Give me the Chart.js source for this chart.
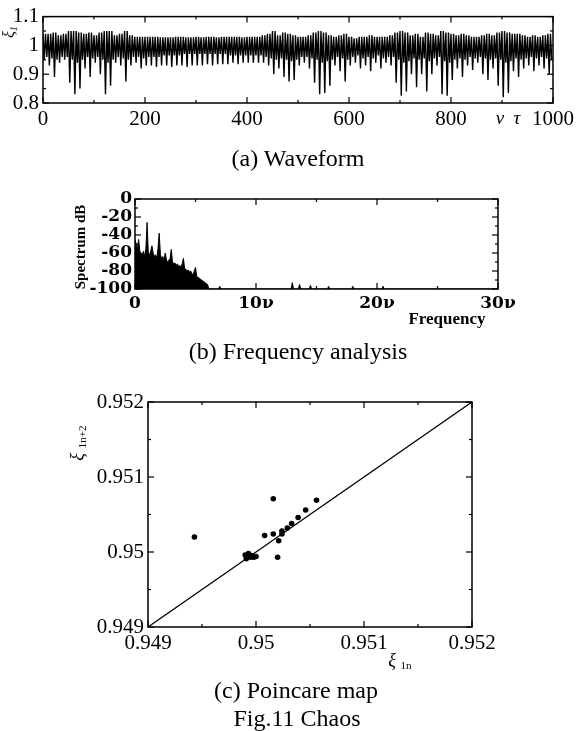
<!DOCTYPE html>
<html>
<head>
<meta charset="utf-8">
<script src="https://cdn.jsdelivr.net/npm/chart.js@4.4.1/dist/chart.umd.min.js"></script>
<style>
  html, body { margin: 0; padding: 0; background: #fff; }
  body { width: 578px; height: 731px; position: relative; overflow: hidden; font-family: "Liberation Serif", "Times New Roman", serif; color: #000; }
  canvas { position: absolute; left: 0; }
  .lbl { position: absolute; white-space: nowrap; transform: translate(-50%, -50%); line-height: 1; }
  .rot { transform: translate(-50%, -50%) rotate(-90deg); }
  .cap { font-size: 24px; }
  sub { font-size: 0.62em; vertical-align: -0.3em; }
</style>
</head>
<body>
<canvas id="wave" width="578" height="135" style="top:0px"></canvas>
<canvas id="spec" width="578" height="150" style="top:170px"></canvas>
<canvas id="poin" width="578" height="280" style="top:380px"></canvas>

<div class="lbl rot" style="left:10px;top:32px;font-size:16px;font-style:italic">ξ<sub>1</sub></div>
<div class="lbl" style="left:508px;top:117px;font-size:19px;font-style:italic">ν&nbsp;&nbsp;τ</div>
<div class="lbl cap" style="left:298px;top:158px">(a) Waveform</div>

<div class="lbl rot" style="left:80px;top:247px;font-size:15px;font-weight:bold">Spectrum dB</div>
<div class="lbl" style="left:447px;top:318px;font-size:17px;font-weight:bold">Frequency</div>
<div class="lbl cap" style="left:298px;top:351px">(b) Frequency analysis</div>

<div class="lbl rot" style="left:78px;top:443px;font-size:18px"><i>ξ</i> <sub>1n+2</sub></div>
<div class="lbl" style="left:400px;top:661px;font-size:18px"><i>ξ</i> <sub>1n</sub></div>
<div class="lbl cap" style="left:296px;top:690px">(c) Poincare map</div>
<div class="lbl cap" style="left:297px;top:718px">Fig.11 Chaos</div>

<script>
// (a) waveform, per 10 units of ν τ: peak, deepest dip, and lower edge of the dark core
const waveStep = 10;
const waveHigh = [
  1.04, 1.04, 1.045, 1.035, 1.04, 1.05, 1.05, 1.045, 1.04, 1.045,
  1.035, 1.045, 1.05, 1.05, 1.035, 1.04, 1.05, 1.035, 1.03, 1.03,
  1.03, 1.03, 1.03, 1.028, 1.028, 1.028, 1.03, 1.03, 1.028, 1.028,
  1.03, 1.028, 1.03, 1.03, 1.028, 1.03, 1.03, 1.03, 1.03, 1.028,
  1.03, 1.03, 1.03, 1.035, 1.04, 1.05, 1.035, 1.045, 1.04, 1.035,
  1.03, 1.03, 1.035, 1.045, 1.05, 1.045, 1.035, 1.03, 1.035, 1.04,
  1.03, 1.025, 1.03, 1.03, 1.035, 1.03, 1.03, 1.03, 1.035, 1.045,
  1.05, 1.045, 1.035, 1.04, 1.03, 1.045, 1.04, 1.035, 1.05, 1.045,
  1.04, 1.035, 1.04, 1.035, 1.03, 1.03, 1.035, 1.04, 1.035, 1.045,
  1.05, 1.045, 1.04, 1.04, 1.035, 1.03, 1.035, 1.03, 1.035, 1.04
];
const waveLow = [
  0.95, 0.93, 0.89, 0.94, 0.95, 0.87, 0.83, 0.85, 0.92, 0.89,
  0.94, 0.90, 0.83, 0.86, 0.94, 0.93, 0.875, 0.93, 0.94, 0.92,
  0.93, 0.93, 0.925, 0.93, 0.93, 0.925, 0.93, 0.93, 0.925, 0.93,
  0.93, 0.93, 0.935, 0.93, 0.935, 0.935, 0.935, 0.94, 0.935, 0.94,
  0.94, 0.94, 0.94, 0.94, 0.93, 0.90, 0.92, 0.89, 0.875, 0.88,
  0.93, 0.94, 0.92, 0.87, 0.83, 0.835, 0.86, 0.93, 0.91, 0.875,
  0.93, 0.94, 0.92, 0.93, 0.91, 0.94, 0.92, 0.94, 0.93, 0.87,
  0.825, 0.84, 0.90, 0.855, 0.90, 0.84, 0.90, 0.93, 0.83, 0.825,
  0.88, 0.92, 0.89, 0.93, 0.915, 0.94, 0.90, 0.88, 0.92, 0.86,
  0.82, 0.835, 0.91, 0.89, 0.92, 0.93, 0.91, 0.93, 0.92, 0.90
];
const waveMid = [
  0.96, 0.955, 0.95, 0.96, 0.96, 0.95, 0.94, 0.95, 0.96, 0.955,
  0.96, 0.95, 0.94, 0.95, 0.96, 0.955, 0.95, 0.96, 0.96, 0.955,
  0.96, 0.96, 0.96, 0.965, 0.965, 0.965, 0.965, 0.97, 0.97, 0.97,
  0.97, 0.97, 0.97, 0.97, 0.97, 0.97, 0.965, 0.965, 0.965, 0.965,
  0.965, 0.965, 0.965, 0.96, 0.955, 0.95, 0.955, 0.95, 0.945, 0.95,
  0.96, 0.96, 0.955, 0.95, 0.94, 0.945, 0.95, 0.96, 0.955, 0.95,
  0.96, 0.965, 0.955, 0.96, 0.955, 0.965, 0.955, 0.96, 0.96, 0.95,
  0.94, 0.945, 0.955, 0.95, 0.955, 0.945, 0.955, 0.96, 0.945, 0.94,
  0.95, 0.955, 0.95, 0.96, 0.955, 0.96, 0.955, 0.95, 0.955, 0.95,
  0.94, 0.945, 0.955, 0.95, 0.955, 0.96, 0.955, 0.96, 0.955, 0.95
];

// (b) spectrum
const specFreq = [
  0.0, 0.1, 0.2, 0.3, 0.4, 0.5, 0.6, 0.7, 0.8, 0.9,
  1.0, 1.1, 1.2, 1.3, 1.4, 1.5, 1.6, 1.7, 1.8, 1.9,
  2.0, 2.1, 2.2, 2.3, 2.4, 2.5, 2.6, 2.7, 2.8, 2.9,
  3.0, 3.1, 3.2, 3.3, 3.4, 3.5, 3.6, 3.7, 3.8, 3.9,
  4.0, 4.1, 4.2, 4.3, 4.4, 4.5, 4.6, 4.7, 4.8, 4.9,
  5.0, 5.1, 5.2, 5.3, 5.4, 5.5, 5.6, 5.7, 5.8, 5.9,
  6.0, 6.1, 6.9, 7.0, 7.1, 12.9, 13.0, 13.1, 13.5, 13.6,
  13.7, 14.4, 14.5, 14.6, 15.9, 16.0, 16.1, 17.9, 18.0, 18.1,
  20.4, 20.5, 20.6, 30
];
const specDb = [
  -45, -50, -55, -45, -58, -60, -62, -58, -64, -55,
  -26, -60, -62, -58, -52, -60, -64, -62, -66, -55,
  -38, -62, -66, -64, -68, -60, -68, -70, -68, -66,
  -56, -70, -72, -71, -74, -72, -75, -74, -76, -72,
  -66, -77, -78, -80, -79, -81, -80, -83, -84, -80,
  -76, -86, -87, -88, -89, -90, -91, -92, -93, -94,
  -95, -100, -100, -97, -100, -100, -93, -100, -100, -95,
  -100, -100, -96, -100, -100, -97, -100, -100, -97, -100,
  -100, -97, -100, -100
];

// (c) Poincare map
const poinX = [
  0.94943, 0.95016, 0.95056, 0.95046, 0.95039, 0.95033, 0.95029, 0.95024, 0.95024, 0.95016,
  0.95008, 0.95021, 0.95020, 0.94990, 0.94992, 0.94995, 0.94998, 0.94993, 0.94991, 0.94996,
  0.95000
];
const poinY = [
  0.95020, 0.95071, 0.95069, 0.95056, 0.95046, 0.95038, 0.95032, 0.95028, 0.95024, 0.95024,
  0.95022, 0.95015, 0.94993, 0.94996, 0.94994, 0.94993, 0.94993, 0.94998, 0.94991, 0.94995,
  0.94994
];
const poinRange = [0.949, 0.952];

// box round the plot area, ticks pointing inward (major + half-step minor)
const framePlugin = {
  id: 'frame',
  afterDraw(chart) {
    const { ctx, chartArea: a, scales } = chart;
    const line = (x1, y1, x2, y2) => { ctx.beginPath(); ctx.moveTo(x1, y1); ctx.lineTo(x2, y2); ctx.stroke(); };
    const marks = (scale) => {
      const vals = scale.ticks.map(t => t.value);
      const out = [];
      vals.forEach((v, i) => {
        out.push([scale.getPixelForValue(v), 6]);
        if (i < vals.length - 1) out.push([scale.getPixelForValue((v + vals[i + 1]) / 2), 3]);
      });
      return out;
    };
    ctx.save();
    ctx.strokeStyle = '#000';
    ctx.lineWidth = 1.2;
    marks(scales.x).forEach(([p, len]) => {
      line(p, a.top, p, a.top + len);
      line(p, a.bottom, p, a.bottom - len);
    });
    marks(scales.y).forEach(([p, len]) => {
      line(a.left, p, a.left + len, p);
      line(a.right, p, a.right - len, p);
    });
    ctx.lineWidth = 1.5;
    ctx.strokeRect(a.left, a.top, a.right - a.left, a.bottom - a.top);
    ctx.restore();
  }
};

function axis(opts) {
  return {
    type: 'linear',
    min: opts.min,
    max: opts.max,
    grid: { display: false, drawTicks: false },
    border: { display: false },
    ticks: {
      stepSize: opts.step,
      color: '#000',
      padding: opts.padding,
      font: opts.font,
      maxRotation: 0,
      autoSkip: false,
      callback: opts.fmt
    },
    afterFit: opts.fit
  };
}

function baseOptions(pad, xAxis, yAxis) {
  return {
    responsive: false,
    animation: false,
    events: [],
    layout: { padding: pad },
    plugins: { legend: { display: false }, tooltip: { enabled: false } },
    scales: { x: xAxis, y: yAxis }
  };
}

const serif = '"Liberation Serif", "Times New Roman", serif';
const timesFont = { family: serif, size: 21 };

// (a) Waveform
const wavePoints = [];
waveHigh.forEach((hi, i) => {
  const t = i * waveStep;
  wavePoints.push({ x: t, y: hi });
  wavePoints.push({ x: t + 2.5, y: waveLow[i] });
  wavePoints.push({ x: t + 5, y: hi });
  wavePoints.push({ x: t + 7.5, y: waveMid[i] });
});

new Chart(document.getElementById('wave'), {
  type: 'line',
  data: {
    datasets: [{
      data: wavePoints,
      borderColor: '#000',
      borderWidth: 1.4,
      pointRadius: 0,
      tension: 0
    }]
  },
  options: baseOptions(
    { top: 16, right: 20, left: 0, bottom: 0 },
    axis({ min: 0, max: 1000, step: 200, padding: 4, font: timesFont,
           fit: s => { s.height = 32; } }),
    axis({ min: 0.8, max: 1.1, step: 0.1, padding: 4, font: timesFont,
           fmt: v => String(Number(v.toFixed(2))),
           fit: s => { s.width = 43; } })
  ),
  plugins: [framePlugin]
});

// (b) Frequency analysis
const boldFont = { family: 'DejaVu Serif', size: 17, weight: 'bold' };

new Chart(document.getElementById('spec'), {
  type: 'line',
  data: {
    datasets: [{
      data: specFreq.map((f, i) => ({ x: f, y: specDb[i] })),
      borderColor: '#000',
      backgroundColor: '#000',
      borderWidth: 1,
      pointRadius: 0,
      tension: 0,
      fill: 'start'
    }]
  },
  options: baseOptions(
    { top: 29, right: 80, left: 0, bottom: 0 },
    axis({ min: 0, max: 30, step: 10, padding: 4, font: boldFont,
           fmt: v => (v === 0 ? '0' : v + 'ν'),
           fit: s => { s.height = 31; } }),
    axis({ min: -100, max: 0, step: 20, padding: 3, font: boldFont,
           fit: s => { s.width = 135; } })
  ),
  plugins: [framePlugin]
});

// (c) Poincare map
const fmt3 = v => String(Number(v.toFixed(3)));

new Chart(document.getElementById('poin'), {
  type: 'scatter',
  data: {
    datasets: [
      {
        data: poinX.map((x, i) => ({ x, y: poinY[i] })),
        backgroundColor: '#000',
        borderColor: '#000',
        pointRadius: 2.8,
        pointBorderWidth: 0
      },
      {
        type: 'line',
        data: [{ x: poinRange[0], y: poinRange[0] }, { x: poinRange[1], y: poinRange[1] }],
        borderColor: '#000',
        borderWidth: 1.3,
        pointRadius: 0
      }
    ]
  },
  options: baseOptions(
    { top: 22, right: 106, left: 0, bottom: 0 },
    axis({ min: poinRange[0], max: poinRange[1], step: 0.001, padding: 4, font: timesFont,
           fmt: fmt3, fit: s => { s.height = 33; } }),
    axis({ min: poinRange[0], max: poinRange[1], step: 0.001, padding: 4, font: timesFont,
           fmt: fmt3, fit: s => { s.width = 148; } })
  ),
  plugins: [framePlugin]
});
</script>
</body>
</html>
